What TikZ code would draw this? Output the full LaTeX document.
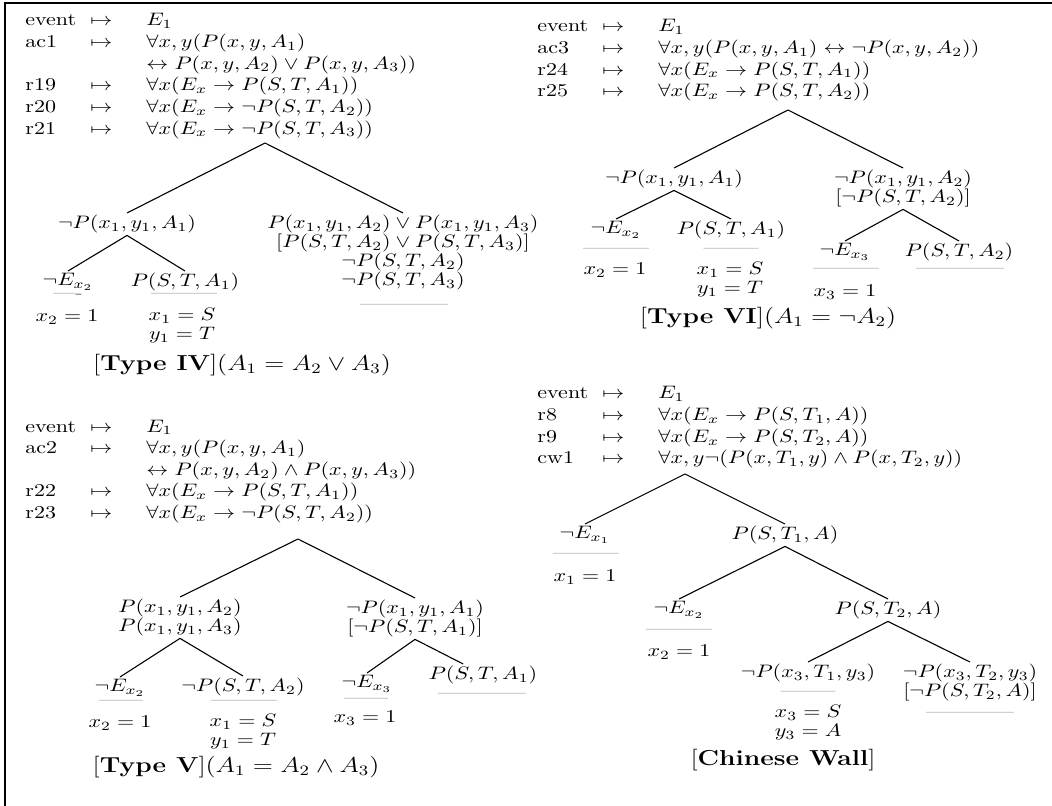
\documentclass[tikz,border=0pt]{standalone}
\usepackage{graphicx}
\newcommand\sq[1]{\scalebox{1}[0.82]{#1}}
\newcommand\hdrrows[1]{\sq{\vtop{\baselineskip=12pt\lineskiplimit=-\maxdimen\lineskip=0pt #1}}}
\newcommand\hrow[2]{\hbox{\makebox[29.5pt][l]{#1}\makebox[10pt]{$\mapsto$}\hspace{15.5pt}$#2$}}
\newcommand\crow[1]{\hbox{\hspace{55pt}$#1$}}
\newcommand\mlines[1]{\sq{\vtop{\baselineskip=10.5pt\lineskiplimit=-\maxdimen\lineskip=0pt\halign{\hfil$##$\hfil\cr#1\crcr}}}}
\newcommand\mt[1]{\sq{$#1$}}
\tikzset{
  tn/.style={inner xsep=1pt, inner ysep=0.8pt, anchor=north},
  rl/.style={text=black!45, inner sep=0pt},
  sb/.style={inner sep=0pt},
  captxt/.style={font=\large, inner sep=0pt},
  hd/.style={anchor=base west, inner sep=0pt},
  br/.style={line width=0.5pt},
  frameline/.style={line width=0.909pt}
}
\begin{document}
\begin{tikzpicture}[x=0.454545pt,y=-0.454545pt]
\useasboundingbox (0,0) rectangle (1052,806);
\draw[frameline] (5,806) -- (5,3) -- (1052,3);

% ---------------- Type IV ----------------
\node[hd] (h4) at (25,26) {\hdrrows{%
  \hrow{event}{E_1}%
  \hrow{ac1}{\forall x,y(P(x,y,A_1)}%
  \crow{\leftrightarrow P(x,y,A_2)\vee P(x,y,A_3))}%
  \hrow{r19}{\forall x(E_x\rightarrow P(S,T,A_1))}%
  \hrow{r20}{\forall x(E_x\rightarrow\neg P(S,T,A_2))}%
  \hrow{r21}{\forall x(E_x\rightarrow\neg P(S,T,A_3))}}};
\coordinate (a4) at (265,143);
\node[tn] (n4L) at (127,213) {\mt{\neg P(x_1,y_1,A_1)}};
\node[tn] (n4R) at (403,213) {\mlines{P(x_1,y_1,A_2)\vee P(x_1,y_1,A_3)\cr [P(S,T,A_2)\vee P(S,T,A_3)]\cr \neg P(S,T,A_2)\cr \neg P(S,T,A_3)}};
\node[rl] (r4R) at (404,307) {------------};
\node[tn] (l4a) at (68,271) {\mt{\neg E_{x_2}}};
\node[rl] (r4a) at (68,296) {----};
\node[sb] (s4a) at (67,317) {\mt{x_2=1}};
\node[tn] (l4b) at (185,271) {\mt{P(S,T,A_1)}};
\node[rl] (r4b) at (184,296) {---------};
\node[sb] (s4b) at (182,326) {\mlines{x_1=S\cr y_1=T}};
\node[captxt] (c4) at (242,365) {\sq{[\textbf{Type IV}]$(A_1=A_2\vee A_3)$}};
\draw[br] (a4) -- (n4L.north);
\draw[br] (a4) -- (n4R.north);
\draw[br] (n4L.south) -- (l4a.north);
\draw[br] (n4L.south) -- (l4b.north);

% ---------------- Type VI ----------------
\node[hd] (h6) at (537,32) {\hdrrows{%
  \hrow{event}{E_1}%
  \hrow{ac3}{\forall x,y(P(x,y,A_1)\leftrightarrow\neg P(x,y,A_2))}%
  \hrow{r24}{\forall x(E_x\rightarrow P(S,T,A_1))}%
  \hrow{r25}{\forall x(E_x\rightarrow P(S,T,A_2))}}};
\coordinate (a6) at (788,110);
\node[tn] (n6L) at (674,168) {\mt{\neg P(x_1,y_1,A_1)}};
\node[tn] (n6R) at (903,168) {\mlines{\neg P(x_1,y_1,A_2)\cr [\neg P(S,T,A_2)]}};
\node[tn] (l6a) at (616,219) {\mt{\neg E_{x_2}}};
\node[rl] (r6a) at (616,251) {---------};
\node[sb] (s6a) at (615,270) {\mt{x_2=1}};
\node[tn] (l6b) at (731,219) {\mt{P(S,T,A_1)}};
\node[rl] (r6b) at (731,251) {--------};
\node[sb] (s6b) at (730,280) {\mlines{x_1=S\cr y_1=T}};
\node[tn] (l6c) at (845,241) {\mt{\neg E_{x_3}}};
\node[rl] (r6c) at (846,271) {---------};
\node[sb] (s6c) at (845,292) {\mt{x_3=1}};
\node[tn] (l6d) at (959,241) {\mt{P(S,T,A_2)}};
\node[rl] (r6d) at (960,271) {------------};
\node[captxt] (c6) at (768,318) {\sq{[\textbf{Type VI}]$(A_1=\neg A_2)$}};
\draw[br] (a6) -- (n6L.north);
\draw[br] (a6) -- (n6R.north);
\draw[br] (n6L.south) -- (l6a.north);
\draw[br] (n6L.south) -- (l6b.north);
\draw[br] (n6R.south) -- (l6c.north);
\draw[br] (n6R.south) -- (l6d.north);

% ---------------- Type V ----------------
\node[hd] (h5) at (25,432) {\hdrrows{%
  \hrow{event}{E_1}%
  \hrow{ac2}{\forall x,y(P(x,y,A_1)}%
  \crow{\leftrightarrow P(x,y,A_2)\wedge P(x,y,A_3))}%
  \hrow{r22}{\forall x(E_x\rightarrow P(S,T,A_1))}%
  \hrow{r23}{\forall x(E_x\rightarrow\neg P(S,T,A_2))}}};
\coordinate (a5) at (298,539);
\node[tn] (n5L) at (180,597) {\mlines{P(x_1,y_1,A_2)\cr P(x_1,y_1,A_3)}};
\node[tn] (n5R) at (415,598) {\mlines{\neg P(x_1,y_1,A_1)\cr [\neg P(S,T,A_1)]}};
\node[tn] (l5a) at (120,677) {\mt{\neg E_{x_2}}};
\node[rl] (r5a) at (121,703) {------};
\node[sb] (s5a) at (120,723) {\mt{x_2=1}};
\node[tn] (l5b) at (243,676) {\mt{\neg P(S,T,A_2)}};
\node[rl] (r5b) at (244,703) {---------};
\node[sb] (s5b) at (243,732) {\mlines{x_1=S\cr y_1=T}};
\node[tn] (l5c) at (367,673) {\mt{\neg E_{x_3}}};
\node[rl] (r5c) at (366,701) {------};
\node[sb] (s5c) at (365,718) {\mt{x_3=1}};
\node[tn] (l5d) at (483,664) {\mt{P(S,T,A_1)}};
\node[rl] (r5d) at (482,696) {------------};
\node[captxt] (c5) at (236,767) {\sq{[\textbf{Type V}]$(A_1=A_2\wedge A_3)$}};
\draw[br] (a5) -- (n5L.north);
\draw[br] (a5) -- (n5R.north);
\draw[br] (n5L.south) -- (l5a.north);
\draw[br] (n5L.south) -- (l5b.north);
\draw[br] (n5R.south) -- (l5c.north);
\draw[br] (n5R.south) -- ([xshift=-9pt]l5d.north);

% ---------------- Chinese Wall ----------------
\node[hd] (hc) at (537,399) {\hdrrows{%
  \hrow{event}{E_1}%
  \hrow{r8}{\forall x(E_x\rightarrow P(S,T_1,A))}%
  \hrow{r9}{\forall x(E_x\rightarrow P(S,T_2,A))}%
  \hrow{cw1}{\forall x,y\neg(P(x,T_1,y)\wedge P(x,T_2,y))}}};
\coordinate (ac) at (685,474);
\node[tn] (lca) at (585,524) {\mt{\neg E_{x_1}}};
\node[rl] (rca) at (586,556) {---------};
\node[sb] (sca) at (585,577) {\mt{x_1=1}};
\node[tn] (ncb) at (785,524) {\mt{P(S,T_1,A)}};
\node[tn] (lcc) at (679,599) {\mt{\neg E_{x_2}}};
\node[rl] (rcc) at (679,632) {---------};
\node[sb] (scc) at (679,652) {\mt{x_2=1}};
\node[tn] (ncd) at (888,599) {\mt{P(S,T_2,A)}};
\node[tn] (lce) at (808,662) {\mt{\neg P(x_3,T_1,y_3)}};
\node[rl] (rce) at (808,694) {--------};
\node[sb] (sce) at (808,723) {\mlines{x_3=S\cr y_3=A}};
\node[tn] (lcf) at (970,662) {\mlines{\neg P(x_3,T_2,y_3)\cr [\neg P(S,T_2,A)]}};
\node[rl] (rcf) at (970,715) {------------};
\node[captxt] (cc) at (783,760) {\sq{[\textbf{Chinese Wall}]}};
\draw[br] (ac) -- (lca.north);
\draw[br] (ac) -- (ncb.north);
\draw[br] (ncb.south) -- (lcc.north);
\draw[br] (ncb.south) -- (ncd.north);
\draw[br] (ncd.south) -- (lce.north);
\draw[br] (ncd.south) -- (lcf.north);
\end{tikzpicture}
\end{document}
